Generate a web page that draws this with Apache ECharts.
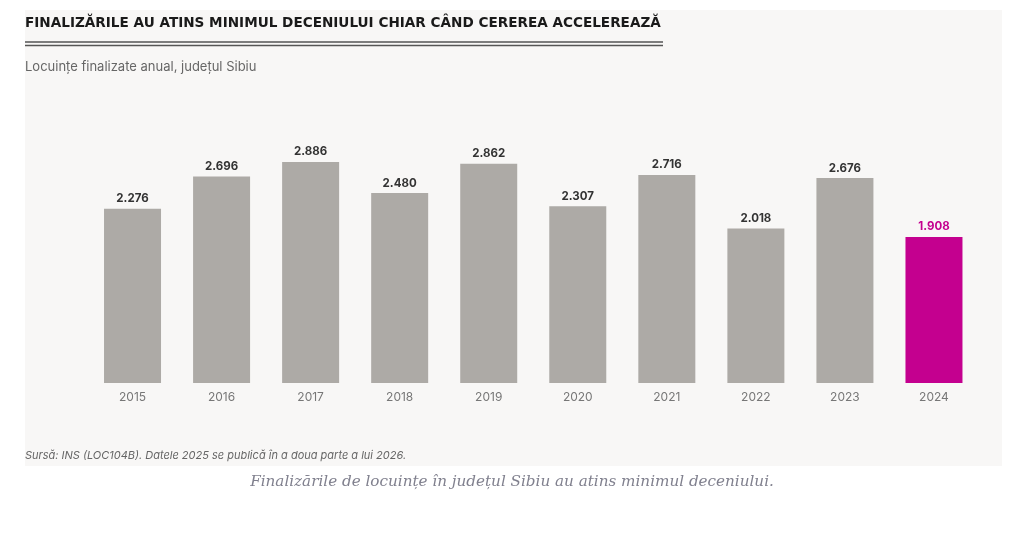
<!DOCTYPE html>
<html lang="ro">
<head>
	<meta charset="UTF-8">
	<title>Finalizări locuințe Sibiu</title>
	<script src="https://cdn.jsdelivr.net/npm/echarts@6/dist/echarts.min.js"></script>
	<style>
		html,body{margin:0;padding:0;background:#fff;}
		#chart{width:1024px;height:539px;}
	</style>
</head>
<body>
	<div id="chart"></div>
	<script type="text/javascript">
		// date: locuinte finalizate anual, judetul Sibiu
		var years = ['2015','2016','2017','2018','2019','2020','2021','2022','2023','2024'];
		var finalizate = [2276, 2696, 2886, 2480, 2862, 2307, 2716, 2018, 2676, 1908];
		var lastYear = '2024';

		var grey = '#adaaa6';
		var magenta = '#c4008f';

		function fmt(v){
			// separator de mii cu punct
			return String(v).replace(/\B(?=(\d{3})+(?!\d))/g, '.');
		}

		var seriesData = years.map(function(y, i){
			var hl = (y === lastYear);
			return {
				value: finalizate[i],
				itemStyle: {color: hl ? magenta : grey},
				label: {color: hl ? magenta : '#333'}
			};
		});

		var myChart = echarts.init(document.getElementById('chart'));
		var option = {
			backgroundColor: '#ffffff',
			animation: false,
			graphic: [
				{type: 'rect', z: -10, shape: {x: 25, y: 10, width: 977, height: 456}, style: {fill: '#f8f7f6'}},
				{type: 'line', shape: {x1: 25, y1: 42, x2: 663, y2: 42}, style: {stroke: '#555', lineWidth: 1.5}},
				{type: 'line', shape: {x1: 25, y1: 45.5, x2: 663, y2: 45.5}, style: {stroke: '#555', lineWidth: 1.5}},
				{type: 'text', left: 25, top: 16, style: {
					text: 'FINALIZĂRILE AU ATINS MINIMUL DECENIULUI CHIAR CÂND CEREREA ACCELEREAZĂ',
					font: 'bold 13.6px "DejaVu Sans"', fill: '#1a1a1a'}},
				{type: 'text', left: 25, top: 61, style: {
					text: 'Locuințe finalizate anual, județul Sibiu',
					font: '13px Inter', fill: '#666'}},
				{type: 'text', left: 25, top: 450, style: {
					text: 'Sursă: INS (LOC104B). Datele 2025 se publică în a doua parte a lui 2026.',
					font: 'italic 11px Inter', fill: '#666'}},
				{type: 'text', left: 'center', top: 475, style: {
					text: 'Finalizările de locuințe în județul Sibiu au atins minimul deceniului.',
					font: 'italic 15.2px "DejaVu Serif"', fill: '#80808e'}}
			],
			grid: {left: 88, right: 45.5, top: 153.3, bottom: 156, containLabel: false},
			xAxis: {
				type: 'category',
				data: years,
				axisLine: {show: false},
				axisTick: {show: false},
				axisLabel: {color: '#777', fontFamily: 'Inter', fontSize: 12, margin: 8}
			},
			yAxis: {
				type: 'value',
				min: 0,
				max: 3000,
				show: false,
				splitLine: {show: false}
			},
			series: [{
				type: 'bar',
				data: seriesData,
				barWidth: 57,
				label: {
					show: true,
					position: 'top',
					distance: 4,
					fontFamily: 'Inter',
					fontWeight: 'bold',
					fontSize: 11.5,
					formatter: function(p){ return fmt(p.value); }
				}
			}]
		};
		myChart.setOption(option);
	</script>
</body>
</html>
